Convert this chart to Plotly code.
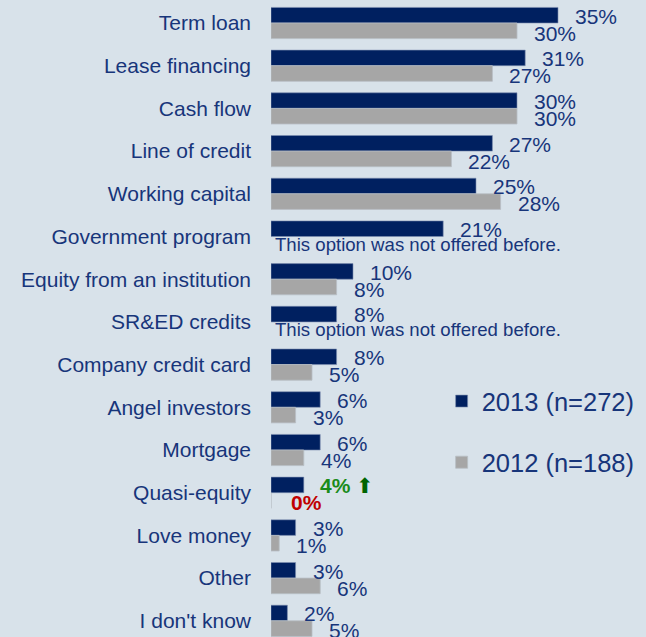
import plotly.graph_objects as go

categories = ["Term loan", "Lease financing", "Cash flow", "Line of credit", "Working capital",
              "Government program", "Equity from an institution", "SR&ED credits",
              "Company credit card", "Angel investors", "Mortgage", "Quasi-equity",
              "Love money", "Other", "I don't know"]
values_2013 = [35, 31, 30, 27, 25, 21, 10, 8, 8, 6, 6, 4, 3, 3, 2]
values_2012 = [30, 27, 30, 22, 28, None, 8, None, 5, 3, 4, 0, 1, 6, 5]
series_names = ["2013 (n=272)", "2012 (n=188)"]
not_offered_note = "This option was not offered before."

NAVY = "#002060"
GRAY = "#a6a6a6"
TEXT = "#17357a"
BG = "#d8e2ea"
FONT = "Arial, Liberation Sans, sans-serif"

fig = go.Figure()
fig.add_trace(go.Bar(y=categories, x=values_2013, orientation="h", name=series_names[0],
                     marker=dict(color=NAVY, line=dict(color="#7d8fb0", width=0.6)),
                     legendgroup="a", hoverinfo="skip"))
fig.add_trace(go.Bar(y=categories, x=values_2012, orientation="h", name=series_names[1],
                     marker=dict(color=GRAY, line=dict(color="#b8bec4", width=0.8)),
                     legendgroup="b", hoverinfo="skip"))

annotations = []
for cat, v in zip(categories, values_2013):
    if cat == "Quasi-equity":
        txt = "<b>%d%%</b> <span style='color:#006400'>⬆</span>" % v
        col = "#1a8c1a"
        xs = 14
    else:
        txt = "%d%%" % v
        col = TEXT
        xs = 15
    annotations.append(dict(x=v, y=cat, xref="x", yref="y", text=txt, showarrow=False,
                            xanchor="left", yanchor="middle", xshift=xs, yshift=7,
                            font=dict(size=21, color=col, family=FONT)))
for cat, v in zip(categories, values_2012):
    if v is None:
        annotations.append(dict(x=0, y=cat, xref="x", yref="y", text=not_offered_note,
                                showarrow=False, xanchor="left", yanchor="middle",
                                xshift=2, yshift=-8,
                                font=dict(size=18.6, color=TEXT, family=FONT)))
        continue
    if cat == "Quasi-equity":
        txt = "<b>%d%%</b>" % v
        col = "#c00000"
        xs = 18
    else:
        txt = "%d%%" % v
        col = TEXT
        xs = 15
    annotations.append(dict(x=v, y=cat, xref="x", yref="y", text=txt, showarrow=False,
                            xanchor="left", yanchor="middle", xshift=xs, yshift=-10,
                            font=dict(size=21, color=col, family=FONT)))

fig.update_layout(
    width=646, height=637,
    margin=dict(l=271, r=0, t=0, b=0, autoexpand=False),
    paper_bgcolor=BG, plot_bgcolor=BG,
    barmode="group", bargap=0.27, bargroupgap=0,
    font=dict(family=FONT, color=TEXT, size=21),
    annotations=annotations,
    showlegend=True,
    legend=dict(x=0.455, xanchor="left", y=1 - 378 / 637, yanchor="top",
                traceorder="grouped", tracegroupgap=25,
                font=dict(size=25.5, color=TEXT, family=FONT),
                bgcolor="rgba(0,0,0,0)"),
    xaxis=dict(range=[0, 375 / 8.2], showgrid=False, zeroline=False,
               showticklabels=False, showline=False, fixedrange=True),
    yaxis=dict(type="category", categoryorder="array", categoryarray=categories,
               range=[(637 - 23) / 42.7, -23 / 42.7], showgrid=False, zeroline=False,
               showline=False, ticks="", ticklabelstandoff=19,
               tickfont=dict(size=21, color=TEXT, family=FONT), fixedrange=True),
)

fig.write_html("out.html", config={"displayModeBar": False},
               post_script="document.body.style.margin='0';document.body.style.overflow='hidden';")
